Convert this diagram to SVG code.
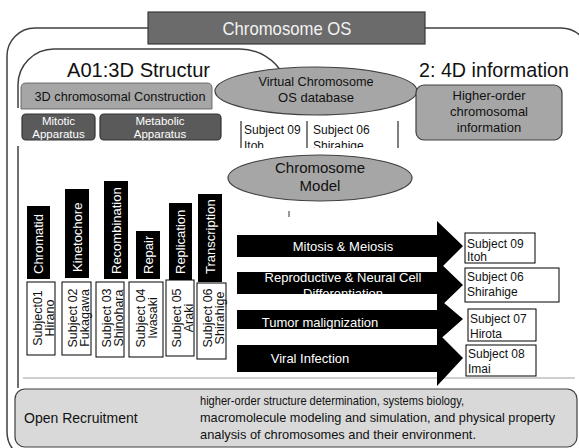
<svg xmlns="http://www.w3.org/2000/svg" width="579" height="448" viewBox="0 0 579 448">
<style>
text{font-family:"Liberation Sans",Arial,sans-serif;}
.frame{fill:none;stroke:#404040;stroke-width:1.5;}
.gray{fill:#a6a6a6;stroke:#404040;stroke-width:1.2;}
.dark{fill:#5a5a5a;stroke:#333;stroke-width:1.2;}
.bar{fill:#000;}
.wt{fill:#fff;}
.bt{fill:#111;}
.box{fill:#fff;stroke:#000;stroke-width:1;}
.arr{fill:#000;}
</style>
<defs>
<clipPath id="colclip"><rect x="238" y="118" width="165" height="30"/></clipPath>
<clipPath id="a2clip"><rect x="237" y="272" width="200" height="22"/></clipPath>
<clipPath id="a3clip"><rect x="237" y="310" width="200" height="19"/></clipPath>
</defs>
<rect width="579" height="448" fill="#fff"/>

<g id="outer-frame">
<rect class="frame" x="7" y="28" width="582" height="432" rx="28"/>
</g>

<g id="a01-region">
<path class="frame" d="M18,108 V85 A36,36 0 0 1 54,49 H240 A50,50 0 0 1 284,76 M18,146 V388"/>
<line x1="23" y1="378" x2="575" y2="378" stroke="#a0a0a0" stroke-width="1.2"/>
<text x="67" y="77" font-size="20.5" class="bt" textLength="143" lengthAdjust="spacingAndGlyphs">A01:3D Structur</text>
</g>

<g id="title">
<rect x="148" y="12" width="277" height="32" fill="#6b6b6b" stroke="#3a3a3a" stroke-width="1.2"/>
<text x="287" y="35" font-size="19" fill="#f2f2f2" text-anchor="middle" textLength="129" lengthAdjust="spacingAndGlyphs">Chromosome OS</text>
</g>

<g id="construction">
<path d="M21,109 V88 Q21,83 26,83 H207 Q212,83 212,88 V109 Z" fill="#a6a6a6" stroke="#555" stroke-width="0.8"/>
<text x="120" y="101" font-size="13.5" class="bt" text-anchor="middle" textLength="171" lengthAdjust="spacingAndGlyphs">3D chromosomal Construction</text>
</g>

<g id="mitotic">
<rect class="dark" x="22" y="114" width="73" height="26" rx="4"/>
<text x="58.5" y="125" font-size="11.5" class="wt" text-anchor="middle">Mitotic</text>
<text x="58.5" y="138" font-size="11.5" class="wt" text-anchor="middle">Apparatus</text>
</g>

<g id="metabolic">
<rect class="dark" x="100" y="114" width="121" height="26" rx="4"/>
<text x="160" y="125" font-size="11.5" class="wt" text-anchor="middle">Metabolic</text>
<text x="160" y="138" font-size="11.5" class="wt" text-anchor="middle">Apparatus</text>
</g>

<g id="virtual-db">
<ellipse class="gray" cx="316" cy="91" rx="101" ry="24"/>
<text x="316" y="86" font-size="13" class="bt" text-anchor="middle" textLength="115" lengthAdjust="spacingAndGlyphs">Virtual Chromosome</text>
<text x="316" y="102" font-size="13" class="bt" text-anchor="middle">OS database</text>
</g>

<g id="db-subjects">
<g stroke="#000" stroke-width="1">
<line x1="241" y1="121" x2="241" y2="148"/>
<line x1="307" y1="121" x2="307" y2="148"/>
<line x1="398" y1="121" x2="398" y2="148"/>
</g>
<g clip-path="url(#colclip)" font-size="12" class="bt">
<text x="244" y="134">Subject 09</text>
<text x="244" y="150">Itoh</text>
<text x="313" y="134">Subject 06</text>
<text x="313" y="150">Shirahige</text>
</g>
</g>

<g id="info-4d">
<text x="419" y="77" font-size="20.5" class="bt" textLength="150" lengthAdjust="spacingAndGlyphs">2: 4D information</text>
<rect class="gray" x="416" y="85" width="146" height="55" rx="8"/>
<text x="489" y="100" font-size="13" class="bt" text-anchor="middle">Higher-order</text>
<text x="489" y="116" font-size="13" class="bt" text-anchor="middle">chromosomal</text>
<text x="489" y="132" font-size="13" class="bt" text-anchor="middle">information</text>
</g>

<g id="chromosome-model">
<ellipse class="gray" cx="320" cy="178" rx="92" ry="23"/>
<text x="320" y="173" font-size="15" class="bt" text-anchor="middle">Chromosome</text>
<text x="320" y="191" font-size="15" class="bt" text-anchor="middle">Model</text>
<line x1="289" y1="211" x2="289" y2="217" stroke="#333" stroke-width="1"/>
</g>

<g id="bars" font-size="13">
<g id="bar-chromatid"><rect class="bar" x="27" y="206" width="23" height="73"/><text class="wt" transform="translate(43,274) rotate(-90)">Chromatid</text></g>
<g id="bar-kinetochore"><rect class="bar" x="65" y="189" width="24" height="89"/><text class="wt" transform="translate(81.5,272) rotate(-90)">Kinetochore</text></g>
<g id="bar-recombination"><rect class="bar" x="104" y="181" width="24" height="98"/><text class="wt" transform="translate(120.5,274) rotate(-90)">Recombination</text></g>
<g id="bar-repair"><rect class="bar" x="136" y="231" width="24" height="48"/><text class="wt" transform="translate(152.5,274) rotate(-90)">Repair</text></g>
<g id="bar-replication"><rect class="bar" x="169" y="203" width="23" height="77"/><text class="wt" transform="translate(185,274) rotate(-90)">Replication</text></g>
<g id="bar-transcription"><rect class="bar" x="198" y="194" width="24" height="88"/><text class="wt" transform="translate(214.5,274) rotate(-90)">Transcription</text></g>
</g>

<g id="subject-boxes" font-size="12.5" class="bt">
<g id="s01"><rect class="box" x="27" y="282" width="28" height="73"/><text transform="translate(41.5,318) rotate(-90)" text-anchor="middle" class="bt">Subject01</text><text transform="translate(53.5,318) rotate(-90)" text-anchor="middle" class="bt">Hirano</text></g>
<g id="s02"><rect class="box" x="62" y="282" width="29" height="73"/><text transform="translate(76.5,318) rotate(-90)" text-anchor="middle" class="bt">Subject 02</text><text transform="translate(88.5,318) rotate(-90)" text-anchor="middle" class="bt">Fukagawa</text></g>
<g id="s03"><rect class="box" x="96" y="282" width="28" height="75"/><text transform="translate(110.5,318) rotate(-90)" text-anchor="middle" class="bt">Subject 03</text><text transform="translate(122.5,318) rotate(-90)" text-anchor="middle" class="bt">Shinohara</text></g>
<g id="s04"><rect class="box" x="129" y="282" width="34" height="75"/><text transform="translate(145,318) rotate(-90)" text-anchor="middle" class="bt">Subject 04</text><text transform="translate(157,318) rotate(-90)" text-anchor="middle" class="bt">Iwasaki</text></g>
<g id="s05"><rect class="box" x="166" y="280" width="28" height="76"/><text transform="translate(180.5,318) rotate(-90)" text-anchor="middle" class="bt">Subject 05</text><text transform="translate(192.5,318) rotate(-90)" text-anchor="middle" class="bt">Araki</text></g>
<g id="s06"><rect class="box" x="197" y="283" width="29" height="76"/><text transform="translate(211.5,318) rotate(-90)" text-anchor="middle" class="bt">Subject 06</text><text transform="translate(223.5,318) rotate(-90)" text-anchor="middle" class="bt">Shirahige</text></g>
</g>

<g id="connectors">
<polygon class="arr" points="237,235 437,235 437,221 463,246 437,272 437,257 237,257"/>
<polygon class="arr" points="237,272 437,272 437,260 463,285 437,310 437,294 237,294"/>
<polygon class="arr" points="237,310 437,310 437,297 463,319 437,342 437,329 237,329"/>
<polygon class="arr" points="237,345 437,345 437,332 463,358 437,386 437,372 237,372"/>
</g>

<g id="processes" font-size="13" class="wt">
<text x="343" y="251" text-anchor="middle">Mitosis &amp; Meiosis</text>
<g clip-path="url(#a2clip)">
<text x="343" y="282" text-anchor="middle">Reproductive &amp; Neural Cell</text>
<text x="343" y="298" text-anchor="middle">Differentiation</text>
</g>
<g clip-path="url(#a3clip)">
<text x="320" y="327" text-anchor="middle">Tumor malignization</text>
</g>
<text x="310" y="363" text-anchor="middle">Viral Infection</text>
</g>

<g id="process-subjects" font-size="12" class="bt">
<g id="r09"><rect class="box" x="465" y="233" width="70" height="30"/><text x="467" y="248">Subject 09</text><text x="467" y="261">Itoh</text></g>
<g id="r06"><rect class="box" x="465" y="268" width="94" height="34"/><text x="467" y="281">Subject 06</text><text x="467" y="296">Shirahige</text></g>
<g id="r07"><rect class="box" x="468" y="309" width="68" height="32"/><text x="470" y="323">Subject 07</text><text x="470" y="338">Hirota</text></g>
<g id="r08"><rect class="box" x="466" y="345" width="70" height="31"/><text x="468" y="358">Subject 08</text><text x="468" y="373">Imai</text></g>
</g>

<g id="open-recruitment">
<rect x="15" y="389" width="562" height="58" rx="10" fill="#d9d9d9" stroke="#404040" stroke-width="1.2"/>
<text x="24" y="423" font-size="14" class="bt">Open Recruitment</text>
<text x="200" y="405" font-size="13" class="bt" textLength="264" lengthAdjust="spacingAndGlyphs">higher-order structure determination, systems biology,</text>
<text x="200" y="422" font-size="13" class="bt" textLength="355" lengthAdjust="spacingAndGlyphs">macromolecule modeling and simulation, and physical property</text>
<text x="200" y="439" font-size="13" class="bt" textLength="276" lengthAdjust="spacingAndGlyphs">analysis of chromosomes and their environment.</text>
</g>
</svg>
